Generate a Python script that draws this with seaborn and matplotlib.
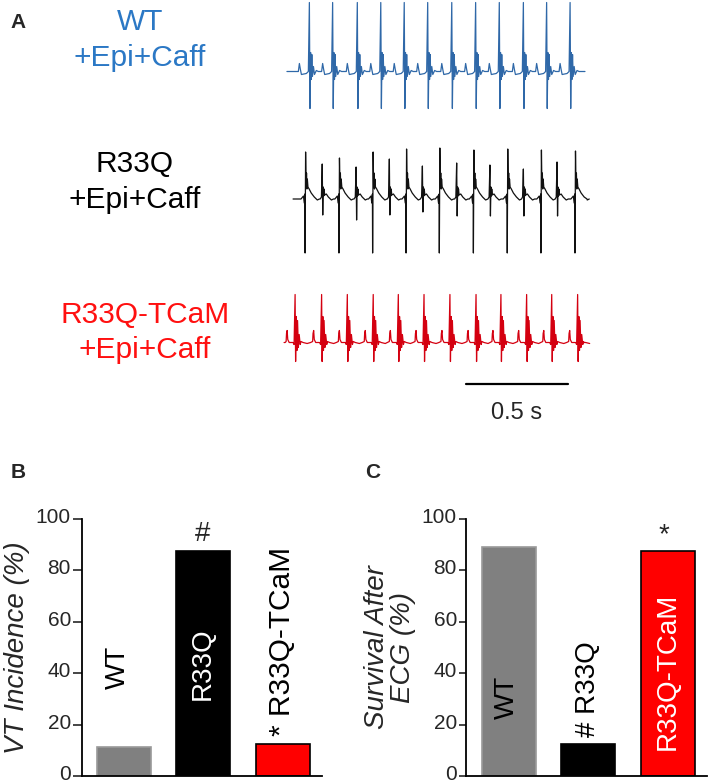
import numpy as np
import pandas as pd
import matplotlib
matplotlib.use("Agg")
import matplotlib.pyplot as plt
import matplotlib.transforms as mtransforms
import seaborn as sns

# ---------------- data ----------------
# Panel B / C bar data
GENOTYPES = ["WT", "R33Q", "R33Q-TCaM"]
VT_INCIDENCE = [11.1, 87.5, 12.5]
SURVIVAL = [89.0, 12.5, 87.5]
BAR_COLORS = ["#808080", "#000000", "#ff0000"]
BAR_EDGES = ["#9a9a9a", "#000000", "#000000"]
YTICKS = [0, 20, 40, 60, 80, 100]

# Panel A ECG traces: beat times (s)
WT_BEATS = [0.144, 0.258, 0.379, 0.494, 0.609, 0.724, 0.842, 0.959, 1.075, 1.193, 1.307, 1.422]
WT_SPAN = [0.034, 1.495]
R33Q_MAIN_BEATS = [0.123, 0.289, 0.454, 0.618, 0.781, 0.948, 1.114, 1.279, 1.446]
R33Q_MAIN_UP = [4.7, 4.1, 4.7, 5.0, 5.1, 4.9, 5.0, 4.9, 4.8]
R33Q_EXTRA_BEATS = [0.207, 0.373, 0.536, 0.698, 0.866, 1.029, 1.193, 1.358]
R33Q_EXTRA_UP = [3.5, 3.2, 4.0, 3.3, 3.6, 3.4, 3.0, 3.7]
R33Q_EXTRA_DOWN = [-1.6, -2.1, -1.6, -1.3, -1.7, -1.7, -1.7, -1.7]
R33Q_SPAN = [0.064, 1.505]
TCAM_BEATS = [0.074, 0.204, 0.330, 0.457, 0.580, 0.706, 0.833, 0.961, 1.083, 1.209, 1.332, 1.459]
TCAM_SPAN = [0.025, 1.490]

# beat waveform templates (offset ms, amplitude a.u.)
WT_TPL_MS = [-64, -54, -49, -44, -39, -15, -5, 0, 3, 6, 9, 12, 15, 20, 25, 34, 44]
WT_TPL_V = [0, 0, 0.8, 0.2, -0.3, -0.2, 0, 6.9, -3.7, 1.9, -0.8, 1.7, -0.5, 0.5, -0.3, 0.1, 0]
R33Q_MAIN_TPL_MS = [-20, -8, -4, -1, 0, 2.5, 5, 7, 9, 11, 14, 20, 30, 45, 60, 70]
R33Q_MAIN_TPL_V = [0, 0.3, -0.4, 0.5, -5.4, 4.8, 1.2, 2.6, 1.0, 2.0, 1.2, 1.0, 0.6, 0.2, -0.1, 0]
R33Q_EXTRA_TPL_MS = [-10, -4, 0, 2.5, 5, 7, 9, 12, 20, 30, 45, 55]
R33Q_EXTRA_TPL_V = [0, 0.2, 3.4, -1.6, 1.2, 0.3, 1.0, 0.4, 0.5, 0.2, -0.1, 0]
TCAM_TPL_MS = [-54, -44, -42, -39, -36, -29, -10, -5, 0, 2.5, 6, 9, 12, 16, 20, 25, 29, 39, 59]
TCAM_TPL_V = [0, 0.1, 0.9, 1.2, 0.3, 0, 0, -0.2, 4.8, -1.9, 2.6, -0.8, 2.2, -0.5, 0.8, -0.2, 0.1, 0, -0.1]

SCALE_BAR = [0.912, 1.412]

# ---------------- helpers ----------------
def build_trace(span, beat_sets):
    pts = [(span[0], 0.0), (span[1], 0.0)]
    for beats, tms, tv, ridx, rvals, sidx, svals in beat_sets:
        for k, b in enumerate(beats):
            v = list(tv)
            if rvals is not None:
                v[ridx] = rvals[k]
            if svals is not None:
                v[sidx] = svals[k]
            for dt, val in zip(tms, v):
                pts.append((b + dt / 1000.0, val))
    pts.sort(key=lambda p: p[0])
    return pd.DataFrame(pts, columns=["t", "v"])


W, H = 709, 783
fig = plt.figure(figsize=(W / 100, H / 100), dpi=100)
sns.set_style("white")
plt.rcParams["font.family"] = ["Liberation Sans", "DejaVu Sans"]

def fx(px):
    return px / W

def fy(py):
    return 1 - py / H

# ---------------- Panel A ----------------
axA = fig.add_axes([fx(280), fy(430), fx(600) - fx(280), fy(0) - fy(430)])
axA.set_xlim(0, 320 / 204)
axA.set_ylim(-43, 0)
axA.axis("off")

traces = [
    ("WT", -7.15, "#2f68a8",
     build_trace(WT_SPAN, [(WT_BEATS, WT_TPL_MS, WT_TPL_V, 7, None, 8, None)])),
    ("R33Q", -19.9, "#111111",
     build_trace(R33Q_SPAN, [
         (R33Q_MAIN_BEATS, R33Q_MAIN_TPL_MS, R33Q_MAIN_TPL_V, 5, R33Q_MAIN_UP, 4, None),
         (R33Q_EXTRA_BEATS, R33Q_EXTRA_TPL_MS, R33Q_EXTRA_TPL_V, 2, R33Q_EXTRA_UP, 3, R33Q_EXTRA_DOWN)])),
    ("R33Q-TCaM", -34.25, "#d40010",
     build_trace(TCAM_SPAN, [(TCAM_BEATS, TCAM_TPL_MS, TCAM_TPL_V, 8, None, 9, None)])),
]
for name, base, col, df in traces:
    df = df.assign(y=df["v"] + base)
    sns.lineplot(data=df, x="t", y="y", estimator=None, sort=False, color=col,
                 lw=0.9, ax=axA)
axA.set_xlabel("")
axA.set_ylabel("")
sns.lineplot(x=SCALE_BAR, y=[-38.4, -38.4], color="black", lw=1.6, ax=axA,
             estimator=None, sort=False)
axA.text(np.mean(SCALE_BAR), -41.3, "0.5 s", ha="center", va="center", fontsize=17)

fig.text(fx(18), fy(22), "A", fontsize=15, fontweight="bold", ha="center", va="center")
fig.text(fx(18), fy(472), "B", fontsize=15, fontweight="bold", ha="center", va="center")
fig.text(fx(373), fy(473), "C", fontsize=15, fontweight="bold", ha="center", va="center")

lab_kw = dict(ha="center", va="center", fontsize=21.5)
fig.text(fx(140), fy(22), "WT", color="#2b78c5", **lab_kw)
fig.text(fx(140), fy(58), "+Epi+Caff", color="#2b78c5", **lab_kw)
fig.text(fx(135), fy(164), "R33Q", color="black", **lab_kw)
fig.text(fx(135), fy(200), "+Epi+Caff", color="black", **lab_kw)
fig.text(fx(145), fy(315), "R33Q-TCaM", color="#ff1010", **lab_kw)
fig.text(fx(145), fy(350), "+Epi+Caff", color="#ff1010", **lab_kw)

# ---------------- bar panels ----------------
def bar_panel(rect, values, xlim, ylabel, ticklen):
    ax = fig.add_axes(rect)
    sns.barplot(x=GENOTYPES, y=values, hue=GENOTYPES, palette=BAR_COLORS,
                saturation=1, width=0.68, legend=False, ax=ax)
    for p, ec in zip(ax.patches, BAR_EDGES):
        p.set_edgecolor(ec)
        p.set_linewidth(1.2)
    ax.set_xlim(*xlim)
    ax.set_ylim(0, 100)
    ax.set_yticks(YTICKS)
    ax.set_xticks([])
    ax.set_xlabel("")
    ax.tick_params(axis="y", direction="out", length=ticklen, width=1.2, labelsize=15,
                   pad=1.5, left=True)
    shift = mtransforms.ScaledTranslation(0, 3.5 / 100, fig.dpi_scale_trans)
    for lab in ax.get_yticklabels():
        lab.set_transform(lab.get_transform() + shift)
    for s in ["top", "right"]:
        ax.spines[s].set_visible(False)
    for s in ["left", "bottom"]:
        ax.spines[s].set_color("black")
        ax.spines[s].set_linewidth(1.3)
    ax.set_ylabel(ylabel, fontsize=20, fontstyle="italic", labelpad=4, linespacing=1.0)
    return ax

axB = bar_panel([fx(82), fy(776), fx(322) - fx(82), fy(519) - fy(776)],
                VT_INCIDENCE, (-0.525, 2.497), "VT Incidence (%)", 6.5)
rot = dict(rotation=90, fontsize=20, ha="center")
axB.text(-0.07, 42.4, "WT", va="center", color="black", **rot)
axB.text(1.0, 43.6, "R33Q", va="center", color="white", **rot)
axB.text(1.99, VT_INCIDENCE[2] + 3.0, "* R33Q-TCaM", va="bottom", color="black",
         rotation=90, fontsize=21.5, ha="center")
axB.text(0.99, VT_INCIDENCE[1] + 1.5, "#", va="bottom", ha="center", fontsize=20)

axC = bar_panel([fx(466), fy(776), fx(706.7) - fx(466), fy(519) - fy(776)],
                SURVIVAL, (-0.539, 2.49), "Survival After\nECG (%)", 5)
axC.text(-0.03, 30.7, "WT", va="center", color="black", **rot)
axC.text(1.0, SURVIVAL[1] + 2.5, "# R33Q", va="bottom", color="black", **rot)
axC.text(2.0, 40.8, "R33Q-TCaM", va="center", color="white", **rot)
axC.text(1.95, SURVIVAL[2] + 1.0, "*", va="bottom", ha="center", fontsize=20)

fig.savefig("out.png", dpi=100)
